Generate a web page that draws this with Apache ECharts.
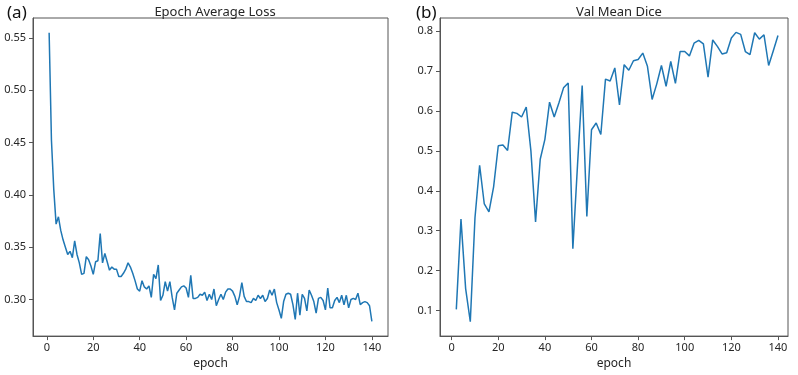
<!DOCTYPE html>
<html>
<head>
<meta charset="utf-8">
<script src="https://cdn.jsdelivr.net/npm/echarts@6/dist/echarts.min.js"></script>
<style>
    html, body { margin: 0; padding: 0; background: #fff; }
    #chart { width: 798px; height: 375px; }
</style>
</head>
<body>
<div id="chart"></div>
<script>
// loss per epoch (1..140)
const lossValues = [
    0.555, 0.452, 0.405, 0.372, 0.379, 0.366, 0.357, 0.350, 0.343, 0.346,
    0.340, 0.356, 0.343, 0.335, 0.324, 0.325, 0.341, 0.338, 0.332, 0.324,
    0.336, 0.337, 0.363, 0.335, 0.344, 0.336, 0.328, 0.331, 0.329, 0.329,
    0.322, 0.322, 0.325, 0.329, 0.335, 0.331, 0.325, 0.318, 0.310, 0.308,
    0.318, 0.312, 0.310, 0.313, 0.302, 0.324, 0.320, 0.333, 0.299, 0.304,
    0.317, 0.308, 0.317, 0.302, 0.290, 0.306, 0.309, 0.312, 0.313, 0.311,
    0.302, 0.323, 0.301, 0.301, 0.302, 0.305, 0.304, 0.307, 0.299, 0.305,
    0.300, 0.310, 0.294, 0.300, 0.305, 0.300, 0.307, 0.310, 0.310, 0.308,
    0.303, 0.295, 0.303, 0.316, 0.303, 0.298, 0.298, 0.297, 0.301, 0.299,
    0.304, 0.301, 0.304, 0.298, 0.301, 0.309, 0.304, 0.310, 0.297, 0.290,
    0.282, 0.298, 0.305, 0.306, 0.305, 0.295, 0.281, 0.306, 0.285, 0.305,
    0.301, 0.289, 0.309, 0.304, 0.298, 0.287, 0.301, 0.302, 0.299, 0.290,
    0.311, 0.292, 0.292, 0.299, 0.302, 0.297, 0.304, 0.295, 0.304, 0.292,
    0.300, 0.301, 0.300, 0.306, 0.295, 0.297, 0.298, 0.297, 0.294, 0.279
];
const lossEpochs = lossValues.map((v, i) => i + 1);

// val dice, every 2 epochs (2..140)
const diceValues = [
    0.103, 0.329, 0.155, 0.072, 0.332, 0.464, 0.367, 0.347, 0.410, 0.513,
    0.515, 0.501, 0.597, 0.594, 0.585, 0.610, 0.500, 0.322, 0.479, 0.529,
    0.622, 0.585, 0.620, 0.658, 0.670, 0.255, 0.465, 0.664, 0.336, 0.553,
    0.570, 0.541, 0.680, 0.675, 0.708, 0.615, 0.716, 0.702, 0.726, 0.729,
    0.745, 0.712, 0.629, 0.668, 0.714, 0.662, 0.724, 0.669, 0.749, 0.749,
    0.738, 0.770, 0.777, 0.768, 0.685, 0.778, 0.762, 0.743, 0.746, 0.783,
    0.797, 0.792, 0.749, 0.741, 0.796, 0.780, 0.791, 0.714, 0.751, 0.789
];
const diceEpochs = diceValues.map((v, i) => (i + 1) * 2);

const xTicks = [0, 20, 40, 60, 80, 100, 120, 140];
const lossTicks = [0.30, 0.35, 0.40, 0.45, 0.50, 0.55];
const diceTicks = [0.1, 0.2, 0.3, 0.4, 0.5, 0.6, 0.7, 0.8];

const font = "Noto Sans";
const txt = "#262626";
const lineColor = "#1f77b4";

function xAxisOf(gridIndex, min, max) {
    return {
        gridIndex: gridIndex,
        type: "value",
        min: min,
        max: max,
        name: "epoch",
        nameLocation: "middle",
        nameGap: 19,
        nameTextStyle: { color: txt, fontSize: 12, fontFamily: font },
        axisLine: { show: true, onZero: false, lineStyle: { color: "#555", width: 1 } },
        axisTick: { show: true, length: 4, customValues: xTicks, lineStyle: { color: "#555" } },
        axisLabel: {
            customValues: xTicks,
            margin: 6,
            color: txt,
            fontSize: 11,
            fontFamily: font,
        },
        splitLine: { show: false },
    };
}

function yAxisOf(gridIndex, min, max, ticks, digits) {
    return {
        gridIndex: gridIndex,
        type: "value",
        min: min,
        max: max,
        axisLine: { show: true, onZero: false, lineStyle: { color: "#555", width: 1 } },
        axisTick: { show: true, length: 4, customValues: ticks, lineStyle: { color: "#555" } },
        axisLabel: {
            customValues: ticks,
            margin: 7,
            color: txt,
            fontSize: 11,
            fontFamily: font,
            formatter: (v) => v.toFixed(digits),
        },
        splitLine: { show: false },
    };
}

const chart = echarts.init(document.getElementById("chart"), null, { renderer: "canvas" });

const option = {
    animation: false,
    backgroundColor: "#fff",
    title: [
        { text: "Epoch Average Loss", left: 210, top: 1, textAlign: "center",
          textStyle: { fontSize: 13, fontWeight: "normal", color: txt, fontFamily: font } },
        { text: "Val Mean Dice", left: 614, top: 1, textAlign: "center",
          textStyle: { fontSize: 13, fontWeight: "normal", color: txt, fontFamily: font } },
        { text: "(a)", left: 2, top: 0,
          textStyle: { fontSize: 17, fontWeight: "normal", color: "#111", fontFamily: font } },
        { text: "(b)", left: 411, top: 0,
          textStyle: { fontSize: 17, fontWeight: "normal", color: "#111", fontFamily: font } },
    ],
    grid: [
        { left: 33, top: 18, width: 355, height: 320, show: true, borderColor: "#555", borderWidth: 1 },
        { left: 440, top: 18, width: 348, height: 320, show: true, borderColor: "#555", borderWidth: 1 },
    ],
    xAxis: [xAxisOf(0, -5.95, 146.95), xAxisOf(1, -5.0, 144.3)],
    yAxis: [
        yAxisOf(0, 0.265, 0.569, lossTicks, 2),
        yAxisOf(1, 0.036, 0.833, diceTicks, 1),
    ],
    series: [
        {
            type: "line",
            xAxisIndex: 0,
            yAxisIndex: 0,
            data: lossEpochs.map((e, i) => [e, lossValues[i]]),
            showSymbol: false,
            lineStyle: { color: lineColor, width: 1.5 },
        },
        {
            type: "line",
            xAxisIndex: 1,
            yAxisIndex: 1,
            data: diceEpochs.map((e, i) => [e, diceValues[i]]),
            showSymbol: false,
            lineStyle: { color: lineColor, width: 1.5 },
        },
    ],
};

chart.setOption(option);
</script>
</body>
</html>
